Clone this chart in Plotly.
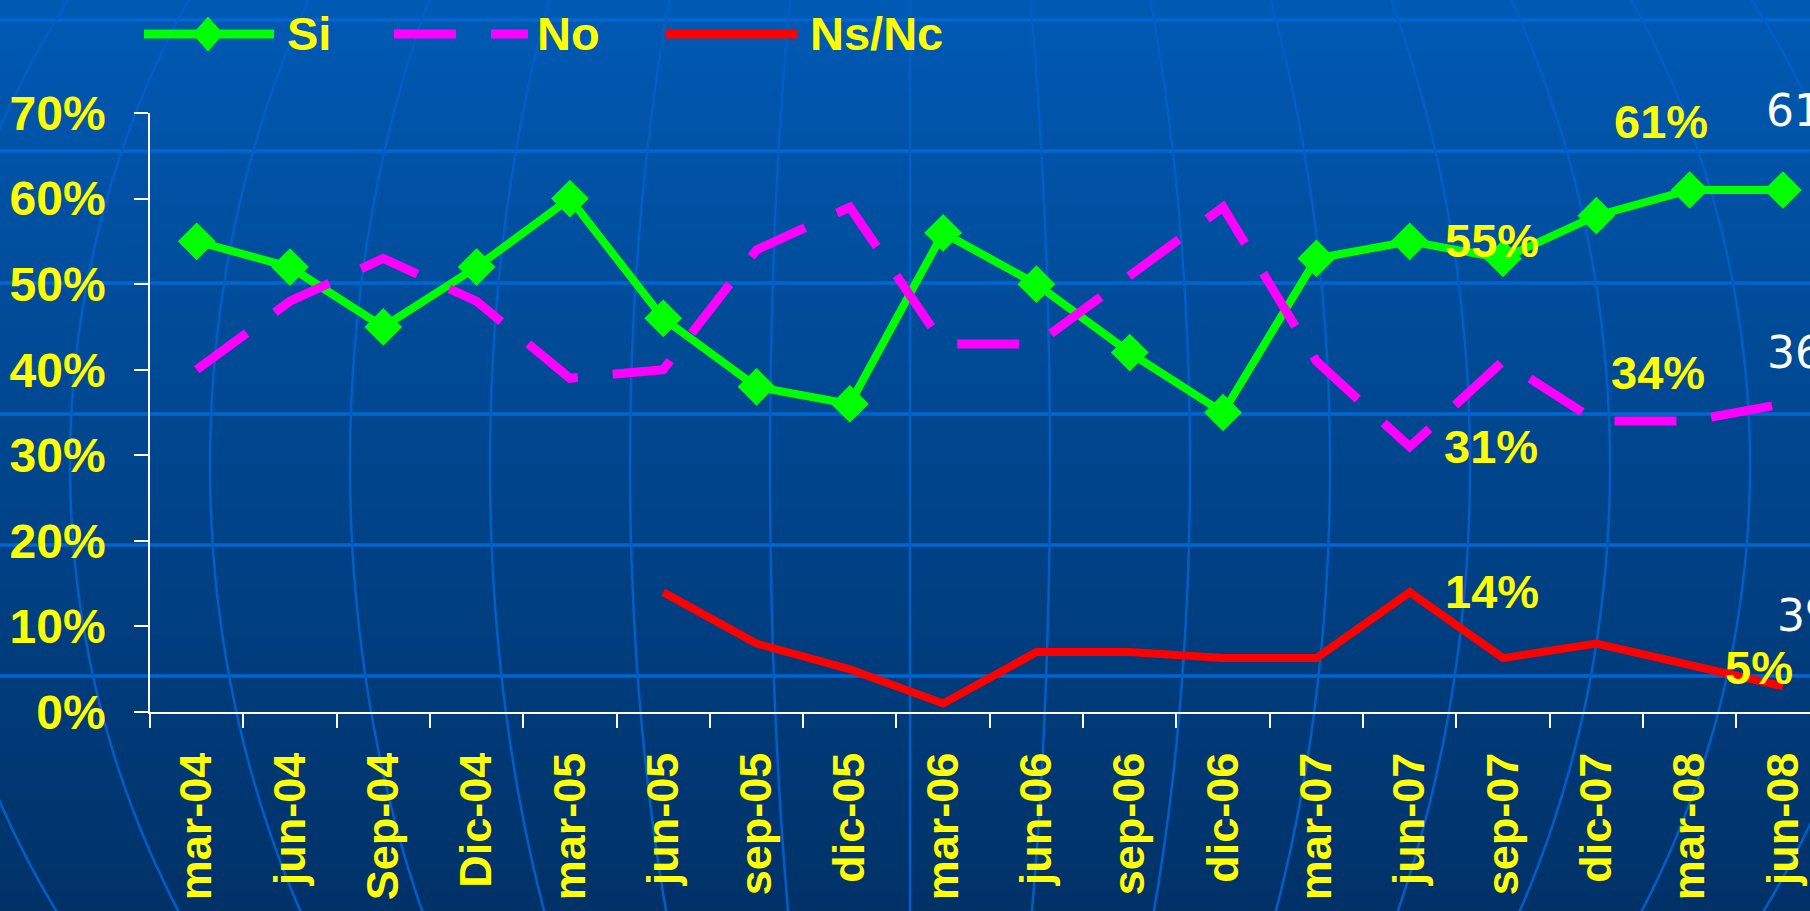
import numpy as np
import plotly.graph_objects as go

# ---------------- data ----------------
categories = ["mar-04", "jun-04", "Sep-04", "Dic-04", "mar-05", "jun-05", "sep-05",
              "dic-05", "mar-06", "jun-06", "sep-06", "dic-06", "mar-07", "jun-07",
              "sep-07", "dic-07", "mar-08", "jun-08"]
si = [55, 52, 45, 52, 60, 46, 38, 36, 56, 50, 42, 35, 53, 55, 53, 58, 61, 61]
no = [40, 48, 53, 48, 39, 40, 54, 59, 43, 43, 51, 59, 41, 31, 41, 34, 34, 36]
nsnc = [None, None, None, None, None, 14, 8, 5, 1, 7, 7, 6.3, 6.3, 14, 6.3, 8, 5.5, 3]
series_names = ["Si", "No", "Ns/Nc"]
y_ticks = [0, 10, 20, 30, 40, 50, 60, 70]
y_ticktext = [f"{v}%" for v in y_ticks]

# hand-placed value labels (yellow) and clipped labels at the right edge (white)
yellow_labels = ["61%", "55%", "34%", "31%", "14%", "5%"]
white_labels = ["61%", "36%", "3%"]

W, H = 1810, 911
FONT = "Liberation Sans, Arial, sans-serif"
YELLOW = "#FFFF00"
GREEN = "#00FF00"
MAGENTA = "#FF00FF"
RED = "#FF0000"


def px(x):
    return x / W


def py(y):
    return 1 - y / H


fig = go.Figure()

fig.add_trace(go.Scatter(
    x=categories, y=si, name=series_names[0], mode="lines+markers",
    line=dict(color=GREEN, width=8),
    marker=dict(symbol="diamond", size=29, color=GREEN),
    showlegend=False, cliponaxis=False))
fig.add_trace(go.Scatter(
    x=categories, y=no, name=series_names[1], mode="lines",
    line=dict(color=MAGENTA, width=9, dash="62px,35px"),
    showlegend=False, cliponaxis=False))
fig.add_trace(go.Scatter(
    x=categories, y=nsnc, name=series_names[2], mode="lines",
    line=dict(color=RED, width=8), connectgaps=False,
    showlegend=False, cliponaxis=False))

shapes = []
# background gradient
N = 90
top = np.array([0, 90, 180])
bot = np.array([0, 50, 104])
for i in range(N):
    t0 = i / N
    t1 = (i + 1) / N
    c = bot + (top - bot) * ((t0 + t1) / 2)
    shapes.append(dict(type="rect", xref="paper", yref="paper", x0=0, x1=1,
                       y0=t0, y1=min(1.0, t1 + 0.002), layer="below",
                       line=dict(width=0),
                       fillcolor=f"rgb({int(c[0])},{int(c[1])},{int(c[2])})"))
# parallels
for yy in [20, 151, 283, 414, 545, 676]:
    shapes.append(dict(type="line", xref="paper", yref="paper", x0=0, x1=1,
                       y0=py(yy), y1=py(yy), layer="below",
                       line=dict(color="rgb(0,102,208)", width=3.5)))
# meridians
cx, cy, Ry, step = 910, 465, 908, 140
ys = np.linspace(-20, H + 20, 60)
for k in range(-7, 8):
    xs = cx + k * step * np.sqrt(np.clip(1 - ((ys - cy) / Ry) ** 2, 0, 1))
    path = "M " + " L ".join(f"{px(a):.5f},{py(b):.5f}" for a, b in zip(xs, ys))
    shapes.append(dict(type="path", xref="paper", yref="paper", path=path,
                       layer="below", line=dict(color="rgb(0,94,200)", width=2.5)))

# manual legend
LY = 34
shapes.append(dict(type="line", xref="paper", yref="paper", x0=px(144), x1=px(274),
                   y0=py(LY), y1=py(LY), line=dict(color=GREEN, width=9)))
dpath = (f"M {px(208 - 15)},{py(LY)} L {px(208)},{py(LY - 17)} "
         f"L {px(208 + 15)},{py(LY)} L {px(208)},{py(LY + 17)} Z")
shapes.append(dict(type="path", xref="paper", yref="paper", path=dpath,
                   fillcolor=GREEN, line=dict(color=GREEN, width=1)))
shapes.append(dict(type="line", xref="paper", yref="paper", x0=px(394), x1=px(528),
                   y0=py(LY), y1=py(LY), line=dict(color=MAGENTA, width=9, dash="62px,35px")))
shapes.append(dict(type="line", xref="paper", yref="paper", x0=px(666), x1=px(797),
                   y0=py(LY), y1=py(LY), line=dict(color=RED, width=9)))

annotations = []
for name, x in zip(series_names, [285, 535, 808]):
    annotations.append(dict(text=name, xref="paper", yref="paper", x=px(x), y=py(LY),
                            xanchor="left", yanchor="middle", showarrow=False,
                            font=dict(family=FONT, size=47, color=YELLOW, weight="bold")))

ylab_pos = [(1661, 121), (1492, 241), (1658, 372), (1491, 446), (1492, 591), (1759, 667)]
for txt, (x, y) in zip(yellow_labels, ylab_pos):
    annotations.append(dict(text=txt, xref="paper", yref="paper", x=px(x), y=py(y),
                            xanchor="center", yanchor="middle", showarrow=False,
                            font=dict(family=FONT, size=47, color=YELLOW, weight="bold")))
wlab_pos = [(1764, 110), (1765, 353), (1775, 615)]
for txt, (x, y) in zip(white_labels, wlab_pos):
    annotations.append(dict(text=txt, xref="paper", yref="paper", x=px(x), y=py(y),
                            xanchor="left", yanchor="middle", showarrow=False,
                            font=dict(family="DejaVu Sans, Verdana, sans-serif",
                                      size=44, color="white")))

fig.update_layout(
    template="none",
    width=W, height=H,
    margin=dict(l=0, r=0, t=0, b=0, pad=0),
    paper_bgcolor="rgb(0,70,140)",
    plot_bgcolor="rgba(0,0,0,0)",
    showlegend=False,
    shapes=shapes,
    annotations=annotations,
    xaxis=dict(
        type="category", categoryorder="array", categoryarray=categories,
        range=[-0.5, 17.29], domain=[px(150), 1], automargin=False,
        showline=True, linecolor="white", linewidth=1.5,
        ticks="outside", tickson="boundaries", ticklen=14, tickcolor="white", tickwidth=1.5,
        tickangle=-90, ticklabelstandoff=21,
        tickfont=dict(family=FONT, size=45, color=YELLOW, weight="bold"),
        showgrid=False, zeroline=False, fixedrange=True),
    yaxis=dict(
        range=[0, 70], domain=[py(712), py(113)], automargin=False,
        tickvals=y_ticks, ticktext=y_ticktext,
        showline=True, linecolor="white", linewidth=1.5,
        ticks="outside", ticklen=14, tickcolor="white", tickwidth=1.5,
        ticklabelstandoff=19,
        tickfont=dict(family=FONT, size=48, color=YELLOW, weight="bold"),
        showgrid=False, zeroline=False, fixedrange=True),
)

fig.write_html("out.html", config={"displayModeBar": False},
               post_script="document.body.style.margin='0';document.body.style.overflow='hidden';")
